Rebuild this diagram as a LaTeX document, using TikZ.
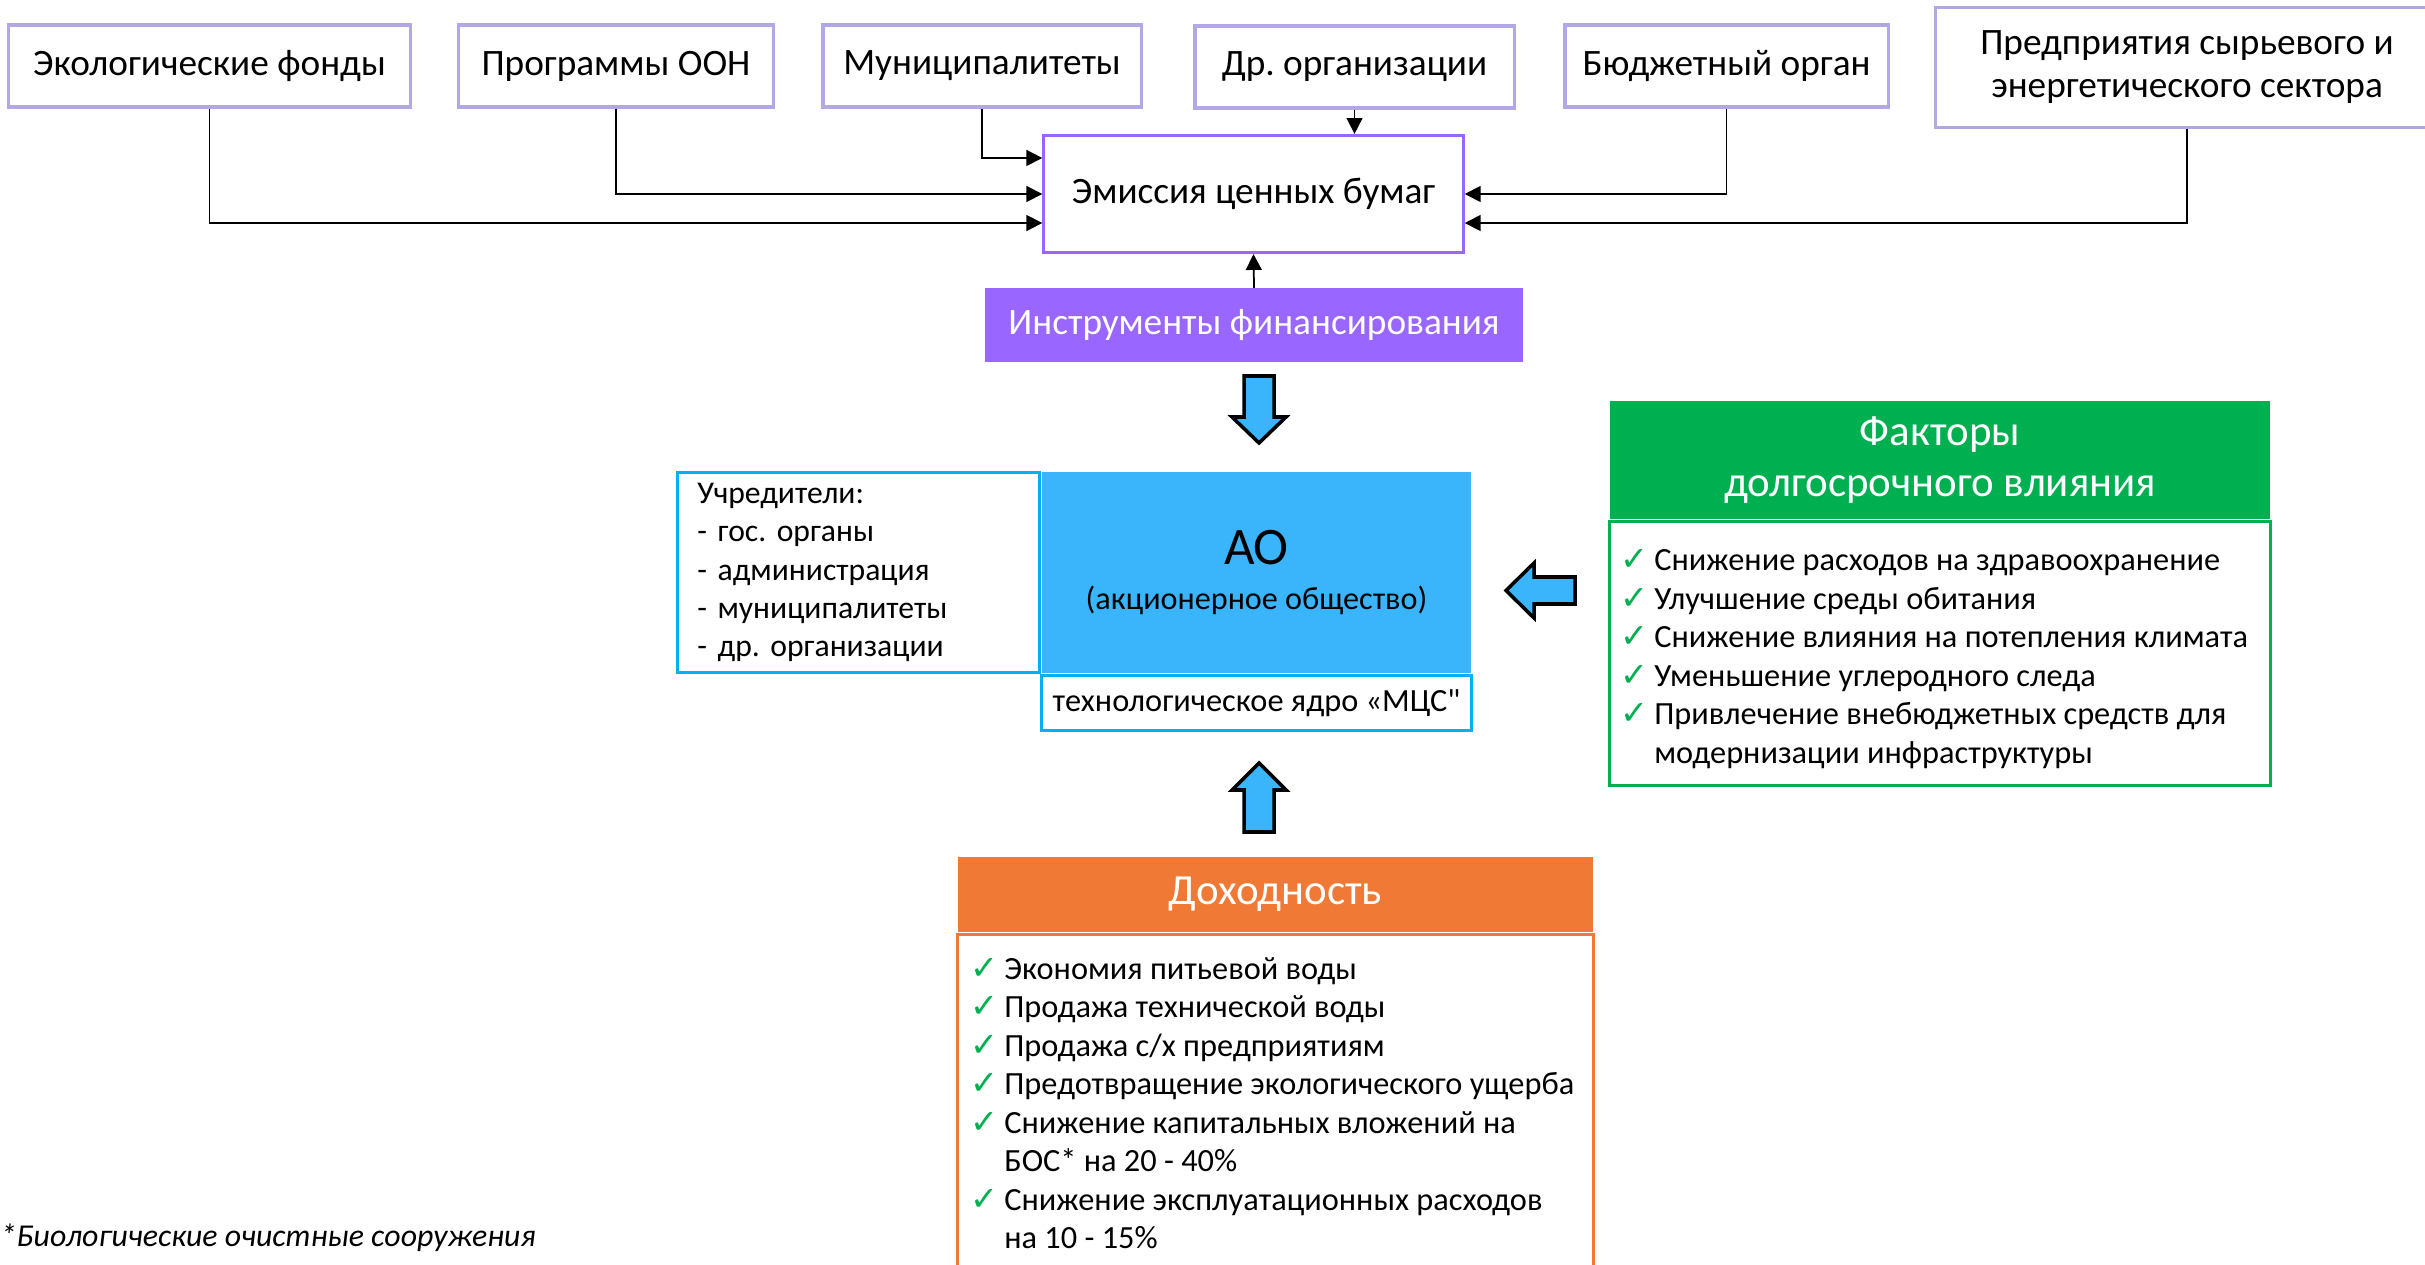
\documentclass[tikz,border=0pt]{standalone}
\usepackage{fontspec}
\setmainfont{Carlito}[Ligatures=TeXOff]
\newfontfamily\checkfont{DejaVu Sans}
\usetikzlibrary{arrows.meta,positioning}
\definecolor{lilac}{HTML}{B4A7E5}
\definecolor{violet}{HTML}{9966FF}
\definecolor{skyblue}{HTML}{3AB5FC}
\definecolor{cyanline}{HTML}{00B0F0}
\definecolor{leafgreen}{HTML}{00B050}
\definecolor{carrot}{HTML}{F07A35}
\newcommand{\chk}{\makebox[9.5pt][l]{\textcolor{leafgreen}{\checkfont\fontsize{9.5}{9.5}\selectfont ✓}}}
\newcommand{\nochk}{\hspace*{9.5pt}}
\frenchspacing
\begin{document}
\begin{tikzpicture}[x=0.01cm, y=-0.01cm,
    src/.style={draw=lilac, line width=0.9pt, fill=white, inner sep=0pt, align=center, font=\fontsize{10.6}{12.2}\selectfont},
    link/.style={-{Triangle[length=4.5pt,width=4.5pt]}, line width=0.5pt},
    blockarrow/.style={draw=black, line width=1pt, fill=skyblue},
    cyanbox/.style={draw=cyanline, line width=0.9pt, fill=white, inner sep=0pt},
    headbox/.style={inner sep=0pt, text=white, align=center, font=\fontsize{12.2}{14.5}\selectfont},
    itemlist/.style={inner sep=0pt, anchor=north west, align=left, font=\fontsize{9.2}{10.95}\selectfont}]
    \useasboundingbox (0,0) rectangle (2425,1264) ;
    % sources
    \node[src, minimum width=4.01cm, minimum height=0.82cm] (eco) at (209.5,66) {Экологические фонды} ;
    \node[src, minimum width=3.14cm, minimum height=0.82cm] (oon) at (616,66) {Программы ООН} ;
    \node[src, minimum width=3.18cm, minimum height=0.82cm] (mun) at (982,66) {Муниципалитеты} ;
    \node[src, minimum width=3.19cm, minimum height=0.82cm] (other) at (1354.5,67) {Др. организации} ;
    \node[src, minimum width=3.23cm, minimum height=0.82cm] (budget) at (1726.5,66) {Бюджетный орган} ;
    \node[src, minimum width=5.02cm, minimum height=1.20cm] (firms) at (2187,67.5) {Предприятия сырьевого и\\энергетического сектора} ;
    \node[src, draw=violet, minimum width=4.19cm, minimum height=1.17cm] (emis) at (1253.5,194) {Эмиссия ценных бумаг} ;
    \node[headbox, fill=violet, minimum width=5.38cm, minimum height=0.73cm, font=\fontsize{10.6}{12}\selectfont] (instr) at (1254,325) {Инструменты финансирования} ;
    \draw[link] (eco.south) |- ([yshift=-0.29cm]emis.west) ;
    \draw[link] (oon.south) |- (emis.west) ;
    \draw[link] (mun.south) |- ([yshift=0.36cm]emis.west) ;
    \draw[link] (other.south) -- (other.south |- emis.north) ;
    \draw[link] (budget.south) |- (emis.east) ;
    \draw[link] (firms.south) |- ([yshift=-0.29cm]emis.east) ;
    \draw[link] (instr.north) -- (emis.south) ;
    % company
    \node[fill=skyblue, inner sep=0pt, minimum width=4.29cm, minimum height=2.01cm, align=center] (ao) at (1256.5,572.5)
        {{\fontsize{15}{15}\selectfont АО}\\[0.7pt]{\fontsize{9.15}{11}\selectfont (акционерное общество)}} ;
    \node[cyanbox, left=0pt of ao, minimum height=2.0cm, text width=3.22cm, inner xsep=0.2cm, align=left, font=\fontsize{9.0}{10.9}\selectfont] (founders)
        {Учредители:\\- гос. органы\\- администрация\\- муниципалитеты\\- др. организации} ;
    \node[cyanbox, below=0pt of ao, minimum width=4.30cm, minimum height=0.55cm, font=\fontsize{9.2}{11}\selectfont] (core) {технологическое ядро «МЦС"} ;
    \draw[blockarrow] (1244,376) -- (1274,376) -- (1274,417) -- (1286,417) -- (1259,443) -- (1232,417) -- (1244,417) -- cycle ;
    \draw[blockarrow] (1244,832) -- (1274,832) -- (1274,790) -- (1286,790) -- (1259,763) -- (1232,790) -- (1244,790) -- cycle ;
    \draw[blockarrow] (1575,577) -- (1575,604) -- (1534,604) -- (1534,618) -- (1506,590.5) -- (1534,563) -- (1534,577) -- cycle ;
    % long-term factors
    \node[headbox, fill=leafgreen, minimum width=6.60cm, minimum height=1.18cm] (facthead) at (1940,460) {Факторы\\долгосрочного влияния} ;
    \node[draw=leafgreen, line width=0.9pt, below=0pt of facthead, minimum width=6.60cm, minimum height=2.64cm] (factbody) {} ;
    \node[itemlist] (factlist) at ([xshift=0.12cm, yshift=-0.29cm]factbody.north west)
        {\chk Снижение расходов на здравоохранение\\\chk Улучшение среды обитания\\\chk Снижение влияния на потепления климата\\\chk Уменьшение углеродного следа\\\chk Привлечение внебюджетных средств для\\\nochk модернизации инфраструктуры} ;
    % returns
    \node[headbox, fill=carrot, minimum width=6.35cm, minimum height=0.75cm] (profhead) at (1275.5,894.5) {Доходность} ;
    \node[draw=carrot, line width=0.9pt, below=0pt of profhead, minimum width=6.35cm, minimum height=3.6cm] (profbody) {} ;
    \node[itemlist] (proflist) at ([xshift=0.14cm, yshift=-0.24cm]profbody.north west)
        {\chk Экономия питьевой воды\\\chk Продажа технической воды\\\chk Продажа с/х предприятиям\\\chk Предотвращение экологического ущерба\\\chk Снижение капитальных вложений на\\\nochk БОС* на 20 - 40\%\\\chk Снижение эксплуатационных расходов\\\nochk на 10 - 15\%} ;
    \node[anchor=west, inner sep=0pt, font=\fontsize{9.05}{11}\selectfont\itshape] (note) at (0,1238) {*Биологические очистные сооружения} ;
\end{tikzpicture}
\end{document}
